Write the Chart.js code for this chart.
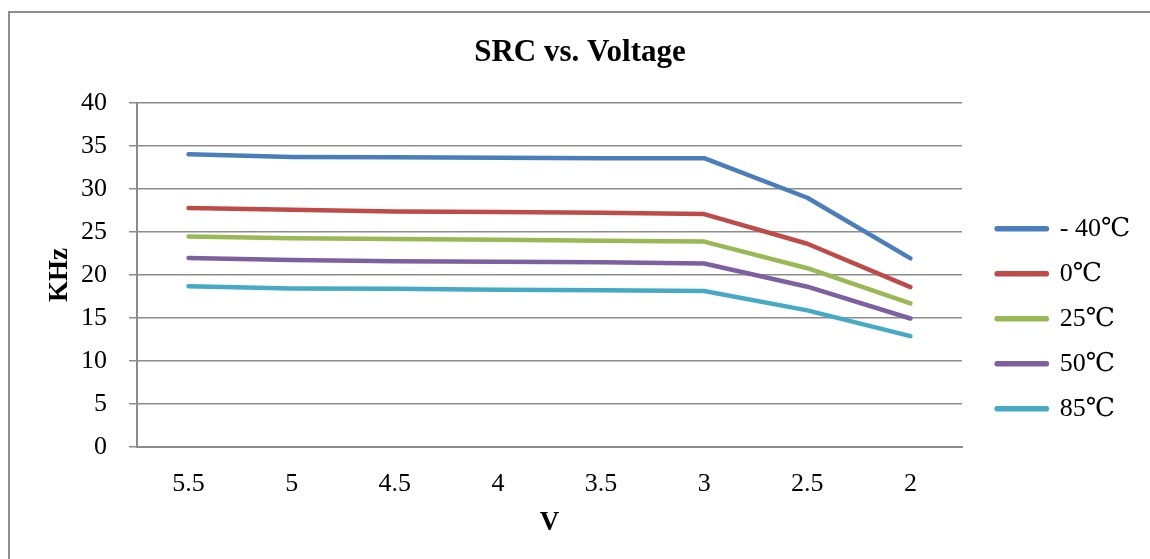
<!DOCTYPE html>
<html>
<head>
<meta charset="utf-8">
<script src="https://cdn.jsdelivr.net/npm/chart.js@4"></script>
<style>
  html, body { margin: 0; padding: 0; background: #fff; overflow: hidden; }
  #wrap { position: relative; width: 1150px; height: 559px; }
  #frame { position: absolute; left: 8px; top: 11px; width: 1300px; height: 700px;
           border-left: 2px solid #8e8e8e; border-top: 2px solid #8e8e8e; pointer-events: none; }
</style>
</head>
<body>
<div id="wrap">
  <canvas id="chart" width="1150" height="559"></canvas>
  <div id="frame"></div>
</div>
<script>
// data
const voltages = ["5.5", "5", "4.5", "4", "3.5", "3", "2.5", "2"];
const tempLabels = ["- 40℃", "0℃", "25℃", "50℃", "85℃"];
const srcM40 = [34.05, 33.75, 33.7, 33.65, 33.6, 33.6, 29.0, 21.95];
const src0   = [27.8, 27.6, 27.4, 27.35, 27.25, 27.1, 23.65, 18.6];
const src25  = [24.5, 24.3, 24.2, 24.1, 24.0, 23.9, 20.8, 16.7];
const src50  = [22.0, 21.75, 21.6, 21.55, 21.5, 21.35, 18.65, 14.95];
const src85  = [18.7, 18.45, 18.4, 18.3, 18.25, 18.15, 15.9, 12.9];
const colors = ["#4a7ebb", "#be4b48", "#98b954", "#7d60a0", "#46aac5"];

const SERIF = "'Liberation Serif', 'DejaVu Serif', serif";
const GRID = "#8c8c8c";

function line(i, data) {
  return {
    label: tempLabels[i],
    data: data,
    borderColor: colors[i],
    backgroundColor: colors[i],
    borderWidth: 4.5,
    borderCapStyle: "round",
    borderJoinStyle: "round",
    pointRadius: 0,
    pointHoverRadius: 0,
    tension: 0
  };
}

new Chart(document.getElementById("chart"), {
  type: "line",
  data: {
    labels: voltages,
    datasets: [line(0, srcM40), line(1, src0), line(2, src25), line(3, src50), line(4, src85)]
  },
  options: {
    responsive: false,
    animation: false,
    layout: { padding: { left: 20, right: 10 } },
    plugins: {
      tooltip: { enabled: false },
      title: {
        display: true,
        text: "SRC vs. Voltage",
        color: "#000",
        font: { family: SERIF, size: 31, weight: "bold" },
        padding: { top: 34, bottom: 32 }
      },
      legend: {
        position: "right",
        title: { display: true, text: "", padding: { top: 64, bottom: 0 }, font: { size: 12 } },
        labels: {
          color: "#000",
          font: { family: SERIF, size: 26 },
          boxWidth: 50,
          boxHeight: 1,
          padding: 19
        }
      }
    },
    scales: {
      x: {
        offset: true,
        grid: { display: false, drawTicks: false },
        border: { display: true, color: GRID, width: 2 },
        ticks: { color: "#000", font: { family: SERIF, size: 26 }, padding: 22, maxRotation: 0 },
        title: { display: true, text: "V", color: "#000", font: { family: SERIF, size: 27, weight: "bold" }, padding: { top: 0, bottom: 20 } },
        afterFit: s => { s.height = 112; }
      },
      y: {
        min: 0,
        max: 40,
        ticks: { stepSize: 5, color: "#000", font: { family: SERIF, size: 26 }, padding: 22 },
        grid: { color: GRID, lineWidth: 1.5, tickLength: 8 },
        border: { display: true, color: GRID, width: 2 },
        title: { display: true, text: "KHz", color: "#000", font: { family: SERIF, size: 27, weight: "bold" }, padding: { top: 24, bottom: 0 } },
        afterFit: s => { s.width = 117; }
      },
      pad: {
        type: "linear",
        position: "right",
        display: true,
        grid: { display: false },
        border: { display: false },
        ticks: { display: false },
        afterFit: s => { s.width = Math.max(0, 188 - 10 - s.chart.legend.width); }
      }
    }
  }
});
</script>
</body>
</html>
